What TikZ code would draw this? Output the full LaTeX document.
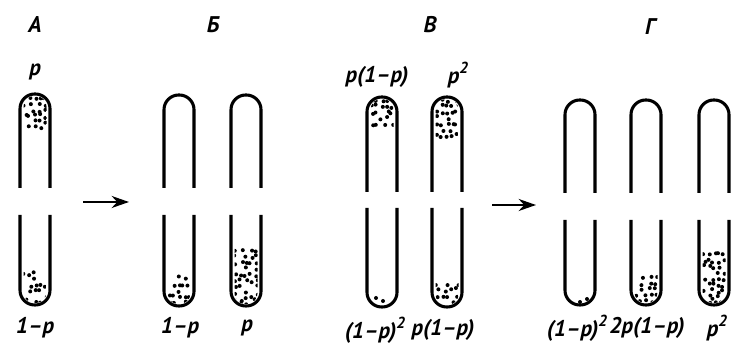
\documentclass[tikz,border=0pt]{standalone}
\usepackage{fontspec}
\setmainfont{PT Sans}
\usetikzlibrary{arrows.meta}
\newcommand{\sqr}{\raisebox{0.45em}{\fontsize{12}{12}\selectfont 2}}

\begin{document}
\begin{tikzpicture}[
    x=0.75pt, y=-0.75pt,
    tubeline/.style={line width=2.3pt, rounded corners=11pt},
    grain/.style={fill=black},
    lbl/.style={font=\fontsize{17}{19}\selectfont\bfseries\itshape, inner sep=0pt},
    conn/.style={-{Stealth[length=13pt, width=9pt]}, line width=1.7pt}
  ]
  \useasboundingbox (0,0) rectangle (735,348);

  % ---- tubes: centre / top / end of upper arm / start of lower arm / bottom ----
  \foreach \cx/\ytop/\yup/\ylo/\ybot in {35/94/188/215/305, 179/95/188/215/306,
      246/95/188/215/306, 382/97/192/208/307, 447/97/192/208/307,
      580/100/193/220/305, 646/100/193/220/305, 714/100/193/220/305} {
    \draw[tubeline] (\cx-15,\yup) |- (\cx+15,\ytop) -- (\cx+15,\yup);
    \draw[tubeline] (\cx-15,\ylo) |- (\cx+15,\ybot) -- (\cx+15,\ylo);
  }

  % ---- stippled fillings: centre / tube top / tube bottom / band from / band to / density ----
  \pgfmathsetseed{7}
  \foreach \cx/\ytop/\ybot/\ya/\yb/\dens in {35/94/305/98/133/0.75, 35/94/305/274/304/0.6,
      179/95/306/278/305/0.5, 246/95/306/251/305/0.8,
      382/97/307/100/128/0.6, 447/97/307/100/137/0.7, 447/97/307/284/305/0.65,
      646/100/305/278/304/0.65, 714/100/305/255/304/0.75} {
    \begin{scope}
      \clip[rounded corners=8pt] (\cx-11.5,\ytop+2) rectangle (\cx+11.5,\ybot-2);
      \pgfmathsetmacro{\ynext}{\ya+6}
      \foreach \yy in {\ya,\ynext,...,\yb} {
        \foreach \xx in {-10,-5,...,10} {
          \pgfmathtruncatemacro{\keep}{(rnd<\dens)}
          \ifnum\keep=1
            \fill[grain] ({\cx+\xx+2*rand}, {\yy+2*rand}) circle (1.5pt);
          \fi
        }
      }
    \end{scope}
  }
  % a few single grains
  \foreach \gx/\gy in {376/298, 383/301, 580/302, 587/299} {
    \fill[grain] (\gx,\gy) circle (1.5pt);
  }

  % ---- stage letters ----
  \node[lbl] (hdA) at (35,25) {А};
  \node[lbl] (hdB) at (213,25) {Б};
  \node[lbl] (hdV) at (430,25) {В};
  \node[lbl] (hdG) at (650,27) {Г};

  % ---- frequencies ----
  \node[lbl] (topA) at (35,72) {p};
  \node[lbl] (botA) at (35,328) {1–p};
  \node[lbl] (botB1) at (180,328) {1–p};
  \node[lbl] (botB2) at (247,328) {p};
  \node[lbl] (topV1) at (377,77) {p(1–p)};
  \node[lbl] (topV2) at (458,75) {p\sqr};
  \node[lbl] (botV1) at (375,330) {(1–p)\sqr};
  \node[lbl] (botV2) at (443,330) {p(1–p)};
  \node[lbl] (botG1) at (577,328) {(1–p)\sqr};
  \node[lbl] (botG2) at (647,328) {2p(1–p)};
  \node[lbl] (botG3) at (717,328) {p\sqr};

  % ---- arrows ----
  \coordinate (arrAs) at (83,202);
  \coordinate (arrAe) at (129,202);
  \coordinate (arrBs) at (492,205);
  \coordinate (arrBe) at (536,205);
  \draw[conn] (arrAs) -- (arrAe);
  \draw[conn] (arrBs) -- (arrBe);
\end{tikzpicture}
\end{document}
